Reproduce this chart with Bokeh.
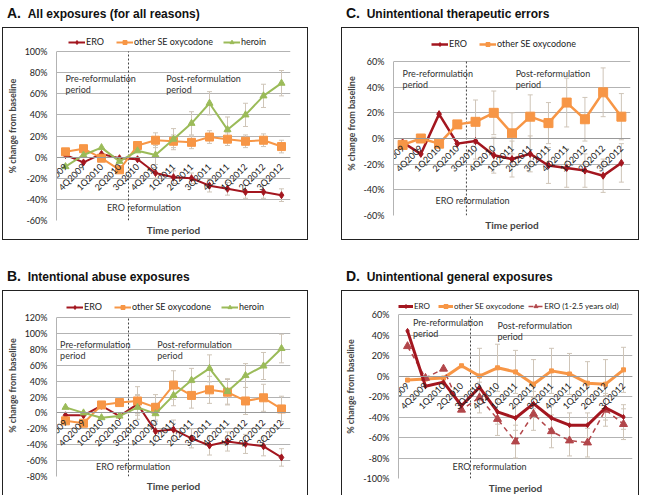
import math
from bokeh.plotting import figure
from bokeh.models import (Range1d, Label, Whisker, TeeHead, ColumnDataSource,
                          Legend, LegendItem, Title, Div, Spacer, FixedTicker,
                          PrintfTickFormatter)
from bokeh.layouts import row, column
from bokeh.embed import file_html
from bokeh.resources import INLINE

quarters = ["3Q2009", "4Q2009", "1Q2010", "2Q2010", "3Q2010", "4Q2010", "1Q2011",
            "2Q2011", "3Q2011", "4Q2011", "1Q2012", "2Q2012", "3Q2012"]

# Panel A: All exposures (for all reasons)
a_ero = [2, -5, 3, -1, -2, -15, -19, -20, -27, -30, -33, -33, -36]
a_other = [5, 8, -1, -12, 11, 16, 15, 14, 19, 17, 15, 16, 10]
a_heroin = [-9, 2, 9, -4, 6, 2, 17, 32, 51, 26, 40, 58, 70]
a_ero_err = [None, None, None, None, None, 5, 6, 5, 6, 6, 6, 6, 6]
a_other_err = [None, None, None, None, None, 7, 6, 6, 6, 6, 6, 6, 6]
a_heroin_err = [None, None, None, None, None, 9, 10, 11, 11, 12, 11, 11, 12]

# Panel B: Intentional abuse exposures
b_ero = [-3, -3, 9, -4, 11, -23, -21, -32, -41, -36, -39, -42, -56]
b_other = [-10, -13, 10, 13, 15, 7, 35, 22, 29, 26, 15, 19, 5]
b_heroin = [7, 0, -6, -4, 7, -1, 22, 41, 56, 27, 47, 59, 81]
b_ero_err = [None, None, None, None, 12, 12, 12, 12, 12, 12, 12, 12, 11]
b_other_err = [None, None, None, None, 18, 16, 18, 16, 17, 16, 17, 17, 16]
b_heroin_err = [None, None, None, None, 15, 13, 13, 15, 17, 16, 15, 17, 18]

# Panel C: Unintentional therapeutic errors
c_ero = [-3, -12, 19, -4, -2, -13, -16, -12, -21, -23, -25, -29, -19]
c_other = [-5, 0, -4, 11, 13, 20, 4, 17, 12, 28, 15, 36, 17]
c_ero_err = [None, None, None, None, 14, 14, 14, 14, 14, 15, 13, 13, 15]
c_other_err = [None, None, None, None, 17, 17, 16, 17, 16, 19, 17, 19, 18]

# Panel D: Unintentional general exposures
d_ero = [44, -10, -6, -29, -11, -35, -41, -27, -41, -48, -48, -31, -40]
d_other = [-4, -3, -2, 10, 0, 8, 4, -8, 5, 2, -7, -8, 6]
d_ero_young = [29, -2, 7, -33, -21, -42, -64, -37, -54, -63, -65, -33, -47]
d_ero_err = [None, None, None, None, 12, 12, 12, 12, 12, 12, 12, 12, 12]
d_other_err = [None, None, None, None, 27, 23, 21, 24, 22, 20, 21, 24, 22]
d_ero_young_err = [None, None, None, None, 15, 16, 16, 16, 16, 15, 14, 16, 15]

# reformulation happens between 2Q2010 and 3Q2010
reform_boundary = 4

RED = "#A3161F"
ORANGE = "#F79646"
GREEN = "#9BBB59"
YOUNG = "#B2464A"
ERRC = "#CFC5B8"
GRID = "#B3B3B3"
FONT = "Lato"


def add_err(p, vals, errs):
    xs = [q for q, e in zip(quarters, errs) if e is not None]
    up = [v + e for v, e in zip(vals, errs) if e is not None]
    lo = [v - e for v, e in zip(vals, errs) if e is not None]
    src = ColumnDataSource(dict(base=xs, upper=up, lower=lo))
    w = Whisker(source=src, base="base", upper="upper", lower="lower",
                line_color=ERRC, line_width=1,
                upper_head=TeeHead(size=5, line_color=ERRC, line_width=1),
                lower_head=TeeHead(size=5, line_color=ERRC, line_width=1))
    p.add_layout(w)


def make_fig(w, h, ymin, ymax, borders):
    l, r, t, b = borders
    # extend the frame upward (legend lives in that strip, above the top gridline)
    frame_h = h - t - b
    ppu = frame_h / (ymax - ymin)
    t_new = 3
    pad = (t - t_new) / ppu
    p = figure(x_range=quarters, y_range=Range1d(ymin, ymax + pad), width=w, height=h,
               output_backend="svg", toolbar_location=None, title=None,
               min_border_left=l, min_border_right=r, min_border_top=t_new,
               min_border_bottom=b)
    p.styles = {"border": "1px solid #222"}
    p.outline_line_color = None
    p.xgrid.visible = False
    ticks = list(range(ymin, ymax + 1, 20))
    p.yaxis.ticker = FixedTicker(ticks=ticks)
    p.ygrid.ticker = FixedTicker(ticks=ticks)
    p.ygrid.grid_line_color = GRID
    p.yaxis.bounds = (ymin, ymax)
    p.yaxis.formatter = PrintfTickFormatter(format="%d%%")
    p.yaxis.major_tick_line_color = None
    p.yaxis.minor_tick_line_color = None
    p.yaxis.axis_line_color = GRID
    p.yaxis.major_label_text_font = FONT
    p.yaxis.major_label_text_font_size = "9px"
    p.yaxis.major_label_text_color = "#222"
    p.yaxis.major_label_standoff = 3
    p.yaxis.axis_label = "% change from baseline"
    p.yaxis.axis_label_text_font = FONT
    p.yaxis.axis_label_text_font_style = "bold"
    p.yaxis.axis_label_text_font_size = "9px"
    p.yaxis.axis_label_standoff = 4
    p.xaxis.fixed_location = 0
    p.xaxis.major_label_orientation = math.pi / 4
    p.xaxis.major_label_text_font = FONT
    p.xaxis.major_label_text_font_size = "9px"
    p.xaxis.major_label_text_color = "#222"
    p.xaxis.major_label_standoff = 2
    p.xaxis.major_tick_line_color = None
    p.xaxis.axis_line_color = "#999999"
    p.add_layout(Title(text="Time period", align="center", text_font=FONT,
                       text_font_style="bold", text_font_size="10px", standoff=2), "below")
    p.segment(x0=[reform_boundary], y0=[ymin], x1=[reform_boundary], y1=[ymax],
              line_dash="2 2", line_color="#444", line_width=1)
    return p, frame_h


def add_texts(p, pre, post, ero):
    kw = dict(text_font=FONT, text_font_size="9px", text_color="#333",
              text_baseline="top")
    for (x, y), first in ((pre, "Pre-reformulation"), (post, "Post-reformulation")):
        p.add_layout(Label(x=x, y=y, text=first, **kw))
        p.add_layout(Label(x=x, y=y, y_offset=-11, text="period", **kw))
    p.add_layout(Label(x=ero[0], y=ero[1], text="ERO reformulation",
                       text_font=FONT, text_font_size="9px", text_color="#333",
                       text_baseline="middle"))


def series(p, vals, color, lw, marker, size, dash="solid"):
    l = p.line(quarters, vals, line_color=color, line_width=lw, line_dash=dash)
    s = p.scatter(quarters, vals, marker=marker, size=size, fill_color=color,
                  line_color=color)
    return [l, s]


def legend(p, items, loc, spacing=10, gw=17, fs="9px"):
    lg = Legend(items=[LegendItem(label=n, renderers=r) for n, r in items],
                orientation="horizontal", location=loc,
                label_text_font=FONT, label_text_font_size=fs,
                label_text_color="#222", glyph_width=gw, glyph_height=10,
                spacing=spacing, padding=2, margin=0, label_standoff=1,
                border_line_color=None, background_fill_alpha=0)
    p.add_layout(lg)


def title_div(letter, text, w):
    html = ('<span style="font-size:14px">%s.</span>&nbsp;&nbsp;'
            '<span style="font-size:12px">%s</span>' % (letter, text))
    return Div(text=html, width=w, height=17,
               styles={"font-family": "Liberation Sans, Arial", "font-weight": "bold",
                       "color": "#111", "white-space": "nowrap", "line-height": "16px"})


# ---- Panel A
pA, fhA = make_fig(306, 213, -60, 100, (47, 19, 23, 21))
add_err(pA, a_heroin, a_heroin_err)
add_err(pA, a_other, a_other_err)
add_err(pA, a_ero, a_ero_err)
rA1 = series(pA, a_ero, RED, 2, "diamond", 7)
rA2 = series(pA, a_other, ORANGE, 2, "square", 8)
rA3 = series(pA, a_heroin, GREEN, 2, "triangle", 7)
legend(pA, [("ERO", rA1), ("other SE oxycodone", rA2), ("heroin", rA3)], (12, fhA + 4))
add_texts(pA, (0.5, 80), (6.1, 80), (2.8, -48))

# ---- Panel C
pC, fhC = make_fig(298, 213, -60, 60, (50, 10, 33, 26))
add_err(pC, c_other, c_other_err)
add_err(pC, c_ero, c_ero_err)
rC1 = series(pC, c_ero, RED, 2.5, "diamond", 7)
rC2 = series(pC, c_other, ORANGE, 2.5, "square", 9)
legend(pC, [("ERO", rC1), ("other SE oxycodone", rC2)], (38, fhC + 12))
add_texts(pC, (0.5, 55), (6.7, 55), (2.3, -48))

# ---- Panel B
pB, fhB = make_fig(306, 207, -80, 120, (50, 19, 26, 22))
add_err(pB, b_heroin, b_heroin_err)
add_err(pB, b_other, b_other_err)
add_err(pB, b_ero, b_ero_err)
rB1 = series(pB, b_ero, RED, 2, "diamond", 7)
rB2 = series(pB, b_other, ORANGE, 2, "square", 8)
rB3 = series(pB, b_heroin, GREEN, 2, "triangle", 7)
legend(pB, [("ERO", rB1), ("other SE oxycodone", rB2), ("heroin", rB3)], (10, fhB + 5))
add_texts(pB, (0.2, 93), (5.6, 93), (2.2, -67))

# ---- Panel D
pD, fhD = make_fig(298, 207, -100, 60, (46, 8, 23, 20))
add_err(pD, d_other, d_other_err)
add_err(pD, d_ero_young, d_ero_young_err)
add_err(pD, d_ero, d_ero_err)
rD2 = series(pD, d_other, ORANGE, 3, "square", 4)
rD3 = series(pD, d_ero_young, YOUNG, 1.5, "triangle", 8, dash="5 4")
rD1 = series(pD, d_ero, RED, 3, "diamond", 5)
legend(pD, [("ERO", rD1), ("other SE oxycodone", rD2), ("ERO (1-2.5 years old)", rD3)],
       (0, fhD + 3), spacing=4, gw=15, fs="8px")
add_texts(pD, (0.8, 58), (5.5, 55), (3.0, -88))

top = row(Spacer(width=2), column(title_div("A", "All exposures (for all reasons)", 306), pA),
          Spacer(width=23), column(title_div("C", "Unintentional therapeutic errors", 298), pC))
bottom = row(Spacer(width=2), column(title_div("B", "Intentional abuse exposures", 306), pB),
             Spacer(width=23), column(title_div("D", "Unintentional general exposures", 298), pD))
page = column(top, Spacer(height=23), bottom)

open("out.html", "w").write(file_html(page, INLINE))
